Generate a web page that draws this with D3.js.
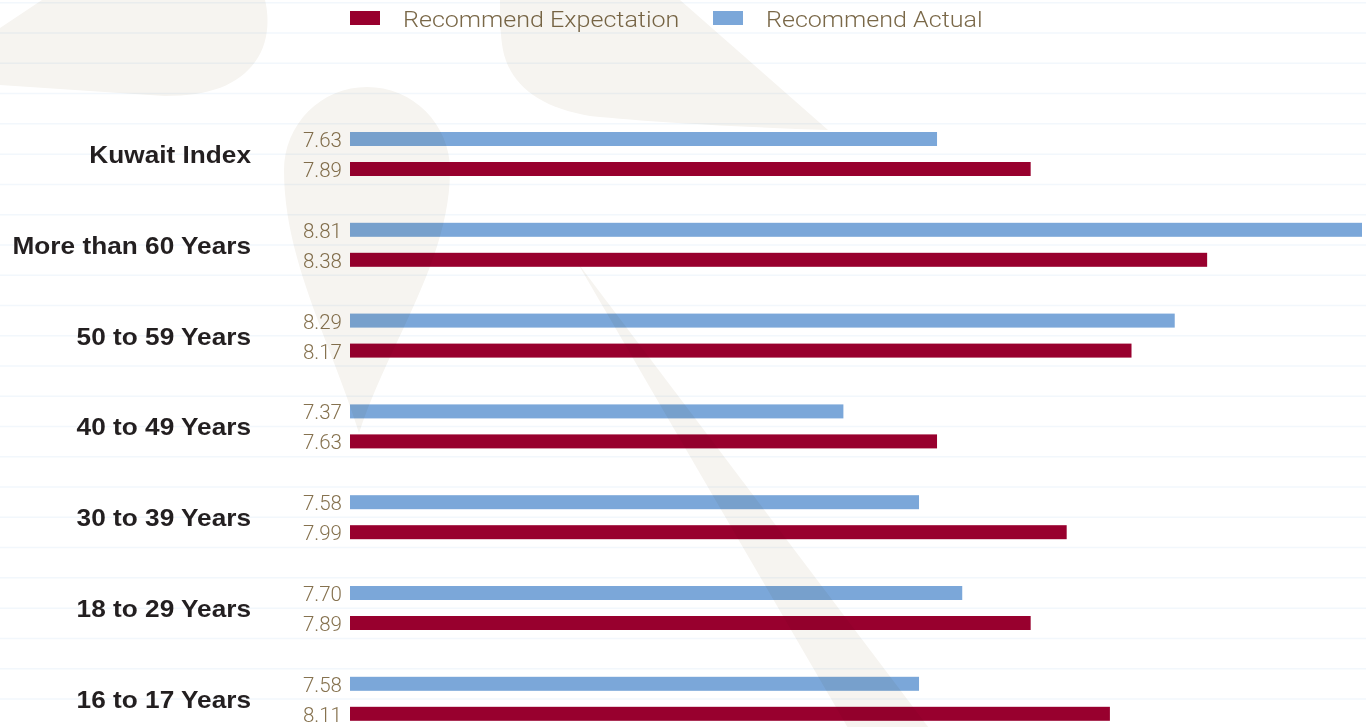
<!DOCTYPE html>
<html>
<head>
<meta charset="utf-8">
<script src="https://cdn.jsdelivr.net/npm/d3@7"></script>
<style>
  body { margin: 0; background: #fff; overflow: hidden; }
  svg { display: block; }
</style>
</head>
<body>
<div id="chart"></div>
<script>
// chart data
const categories = ["Kuwait Index", "More than 60 Years", "50 to 59 Years", "40 to 49 Years",
                    "30 to 39 Years", "18 to 29 Years", "16 to 17 Years"];
const recommendActual = [7.63, 8.81, 8.29, 7.37, 7.58, 7.70, 7.58];
const recommendExpectation = [7.89, 8.38, 8.17, 7.63, 7.99, 7.89, 8.11];
const seriesKeys = ["actual", "expectation"];
const legendLabels = ["Recommend Expectation", "Recommend Actual"];

let w = 1366,
    h = 727;

let colors = { actual: "#7ba7d9", expectation: "#98002e" };

let svg = d3.select("#chart")
            .append("svg")
            .attr("width", w)
            .attr("height", h);

svg.append("rect")
   .attr("width", w)
   .attr("height", h)
   .attr("fill", "#fff");

// scales
let y = d3.scaleBand()
          .domain(categories)
          .range([132, 720.8])
          .paddingInner(0.5154)
          .paddingOuter(0);

let inner = d3.scaleBand()
              .domain(seriesKeys)
              .range([0, y.bandwidth()])
              .paddingInner(0.5333);

let x = d3.scaleLinear()
          .domain([6, 8.81])
          .range([350, 1362]);

let rows = categories.map((c, i) => ({
  category: c,
  actual: recommendActual[i],
  expectation: recommendExpectation[i]
}));

// faint ruled lines, one per bar slot
let slot = y.step() / 3;
let firstLine = y(categories[0]) + inner("actual") + inner.bandwidth() / 2 - slot / 2;
svg.append("g")
   .selectAll("line")
   .data(d3.range(-4, 21))
   .enter()
   .append("line")
   .attr("x1", 0)
   .attr("x2", w)
   .attr("y1", k => firstLine + k * slot)
   .attr("y2", k => firstLine + k * slot)
   .style("stroke", "#f2f7fc")
   .style("stroke-width", 1.5);

// bars
let groups = svg.selectAll(".group")
                .data(rows)
                .enter()
                .append("g")
                .attr("class", "group")
                .attr("transform", d => `translate(0, ${y(d.category)})`);

groups.selectAll("rect")
      .data(d => seriesKeys.map(k => ({ key: k, value: d[k] })))
      .enter()
      .append("rect")
      .attr("x", x(6))
      .attr("y", d => inner(d.key))
      .attr("width", d => x(d.value) - x(6))
      .attr("height", inner.bandwidth())
      .style("fill", d => colors[d.key]);

groups.selectAll(".value")
      .data(d => seriesKeys.map(k => ({ key: k, value: d[k] })))
      .enter()
      .append("text")
      .attr("class", "value")
      .attr("x", x(6) - 8)
      .attr("y", d => inner(d.key) + inner.bandwidth() / 2 + 8)
      .attr("text-anchor", "end")
      .style("font-family", "Roboto, 'Liberation Sans', sans-serif")
      .style("font-weight", 300)
      .style("font-size", "20.5px")
      .style("fill", "#86724f")
      .text(d => d.value.toFixed(2));

groups.append("text")
      .attr("transform", `translate(251, ${y.bandwidth() / 2 + 9}) scale(1.14, 1)`)
      .attr("text-anchor", "end")
      .style("font-family", "'Liberation Sans', Arial, sans-serif")
      .style("font-weight", "bold")
      .style("font-size", "23px")
      .style("fill", "#231f20")
      .text(d => d.category);

// legend
let legendX = [350, 713];
let legendKeys = ["expectation", "actual"];
let legend = svg.selectAll(".legend")
                .data(legendLabels)
                .enter()
                .append("g")
                .attr("class", "legend")
                .attr("transform", (d, i) => `translate(${legendX[i]}, 11)`);

legend.append("rect")
      .attr("width", 30)
      .attr("height", 14)
      .style("fill", (d, i) => colors[legendKeys[i]]);

legend.append("text")
      .attr("transform", "translate(53, 16) scale(1.14, 1)")
      .style("font-family", "Roboto, 'Liberation Sans', sans-serif")
      .style("font-weight", 300)
      .style("font-size", "22px")
      .style("fill", "#7a6848")
      .text(d => d);

// decorative background shapes, multiplied over the bars
let shapes = [
  "M42,0 L265,0 C270,20 268,45 255,62 C238,85 210,96 165,96 L0,85 L0,28 Z",
  "M500,0 L680,0 L828,130 C760,128 660,123 590,116 C540,108 510,85 503,50 C500,35 500,15 500,0 Z",
  "M359,433 C330,340 284,260 284,170 A83,83 0 0 1 450,170 C450,260 390,340 359,433 Z",
  "M577,262 L855,740 L938,740 Z"
];

svg.append("g")
   .selectAll("path")
   .data(shapes)
   .enter()
   .append("path")
   .attr("d", d => d)
   .style("fill", "#f6f4f0")
   .style("mix-blend-mode", "multiply");
</script>
</body>
</html>
